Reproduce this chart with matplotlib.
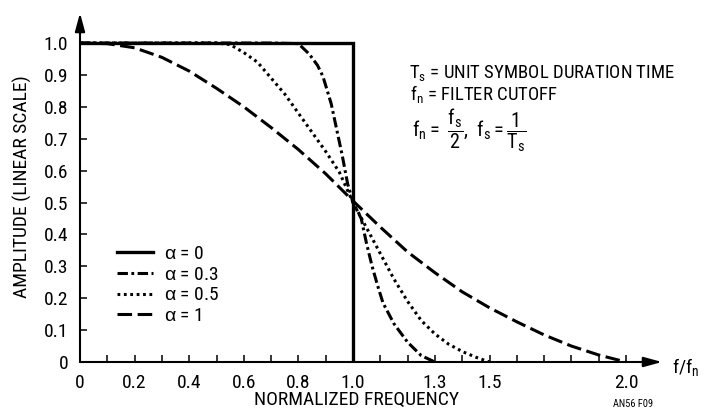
import numpy as np
import matplotlib
matplotlib.use("Agg")
import matplotlib.pyplot as plt
import matplotlib.font_manager as fm

# ---------------- data ----------------
x_a0 = [0.0, 1.0, 1.0]
y_a0 = [1.0, 1.0, 0.0]

x_a03 = [0.0, 0.7, 0.8, 0.84, 0.87, 0.89, 0.92, 0.94, 0.96, 0.98, 1.0,
         1.03, 1.05, 1.07, 1.09, 1.11, 1.15, 1.2, 1.25, 1.3]
y_a03 = [1.0, 1.0, 0.998, 0.965, 0.93, 0.895, 0.81, 0.73, 0.65, 0.56, 0.5,
         0.45, 0.37, 0.30, 0.24, 0.185, 0.12, 0.062, 0.02, 0.0]

x_a05 = [0.0, 0.5, 0.55, 0.6, 0.65, 0.7, 0.75, 0.8, 0.85, 0.9, 0.95, 1.0,
         1.05, 1.1, 1.15, 1.2, 1.25, 1.3, 1.35, 1.4, 1.45, 1.5]
y_a05 = [1.0, 1.0, 0.995, 0.97, 0.94, 0.89, 0.84, 0.78, 0.72, 0.66, 0.595, 0.5,
         0.42, 0.34, 0.26, 0.19, 0.13, 0.088, 0.056, 0.033, 0.015, 0.0]

x_a1 = [0.0, 0.1, 0.2, 0.3, 0.4, 0.5, 0.6, 0.7, 0.8, 0.9, 1.0,
        1.1, 1.2, 1.3, 1.4, 1.5, 1.6, 1.7, 1.8, 1.9, 2.0]
y_a1 = [1.0, 0.998, 0.985, 0.955, 0.912, 0.858, 0.80, 0.735, 0.666, 0.59, 0.505,
        0.423, 0.345, 0.28, 0.22, 0.17, 0.126, 0.085, 0.05, 0.022, 0.0]

labels = [r"$\mathit{\alpha}$ = 0", r"$\mathit{\alpha}$ = 0.3",
          r"$\mathit{\alpha}$ = 0.5", r"$\mathit{\alpha}$ = 1"]

xtick_pos = [round(0.1 * i, 1) for i in range(21)]
xtick_lab = ["0", "", "0.2", "", "0.4", "", "0.6", "", "0.8", "", "1.0",
             "", "", "1.3", "", "1.5", "", "", "", "", "2.0"]
ytick_pos = [round(0.1 * i, 1) for i in range(11)]
ytick_lab = ["0", "0.1", "0.2", "0.3", "0.4", "0.5", "0.6", "0.7", "0.8", "0.9", "1.0"]

# ---------------- fonts ----------------
avail = {f.name for f in fm.fontManager.ttflist}
FONT = next((c for c in ["Liberation Sans Narrow", "Roboto Condensed",
                         "Open Sans Condensed", "Liberation Sans"] if c in avail),
            "DejaVu Sans")
GREEK = "Liberation Sans" if "Liberation Sans" in avail else FONT
plt.rcParams["font.family"] = [FONT, "DejaVu Sans"]
plt.rcParams["mathtext.fontset"] = "custom"
plt.rcParams["mathtext.rm"] = FONT
plt.rcParams["mathtext.it"] = GREEK
plt.rcParams["mathtext.default"] = "regular"
plt.rcParams["lines.scale_dashes"] = False
FS = 14

# ---------------- layout ----------------
W, H = 705, 417
X0, Y0 = 80, 362          # pixel of data origin
UX, UY = 273, 319         # pixels per data unit
XMAX, YMAX = 2.2, 1.1

fig = plt.figure(figsize=(W / 100, H / 100), dpi=100)
ax = fig.add_axes([X0 / W, (H - Y0) / H, XMAX * UX / W, YMAX * UY / H])
ax.set_xlim(0, XMAX)
ax.set_ylim(0, YMAX)
for s in ax.spines.values():
    s.set_visible(False)

LW = 2.2
ax.plot(x_a03, y_a03, color="black", lw=LW, ls=(0, (7.5, 2.5, 2, 2.5)), label=labels[1])
ax.plot(x_a05, y_a05, color="black", lw=LW, ls=(0, (2, 2.6)), label=labels[2])
ax.plot(x_a1, y_a1, color="black", lw=LW, ls=(0, (10.5, 4)), label=labels[3])
ax.plot(x_a0, y_a0, color="black", lw=2.4, ls="-", label=labels[0], zorder=5,
        solid_joinstyle="miter")

h, l = ax.get_legend_handles_labels()
order = [3, 0, 1, 2]
ax.legend([h[i] for i in order], [l[i] for i in order], loc="center left",
          bbox_to_anchor=((117 - X0) / (XMAX * UX), (Y0 - 285) / (YMAX * UY)),
          frameon=False, fontsize=FS, handlelength=1.85, handletextpad=0.55,
          labelspacing=0.14, borderpad=0, borderaxespad=0)

ax.set_xticks(xtick_pos)
ax.set_xticklabels(xtick_lab)
ax.set_yticks(ytick_pos)
ax.set_yticklabels(ytick_lab)
ax.tick_params(direction="in", length=5, width=1.1, labelsize=FS, pad=8.5)

# axis arrows
arrow = dict(arrowstyle="-|>,head_length=1.1,head_width=0.3", color="black",
             lw=1.5, shrinkA=0, shrinkB=0, mutation_scale=10)
ax.annotate("", xy=(0, (Y0 - 13) / UY), xytext=(0, 0), arrowprops=arrow,
            annotation_clip=False)
ax.annotate("", xy=((662 - X0) / UX, 0), xytext=(0, 0), arrowprops=arrow,
            annotation_clip=False)

# texts
def ft(px, py, s, **kw):
    fig.text(px / W, 1 - py / H, s, **kw)

ft(672, 373, r"f/$f_n$", fontsize=FS, va="baseline")
ft(357, 400, "NORMALIZED FREQUENCY", fontsize=FS, ha="center", va="center")
ft(22, 187, "AMPLITUDE (LINEAR SCALE)", fontsize=FS, ha="center", va="center",
   rotation=90)
ft(613, 404, "AN56 F09", fontsize=7.5, va="center")
ft(409, 78, r"$T_s$ = UNIT SYMBOL DURATION TIME", fontsize=13.5, va="baseline")
ft(410, 100, r"$f_n$ = FILTER CUTOFF", fontsize=13.5, va="baseline")
ft(412, 137, r"$f_n = \ \dfrac{f_s}{2},\ f_s = \dfrac{1}{T_s}$", fontsize=14.5,
   va="baseline")

fig.savefig("out.png", dpi=100)
